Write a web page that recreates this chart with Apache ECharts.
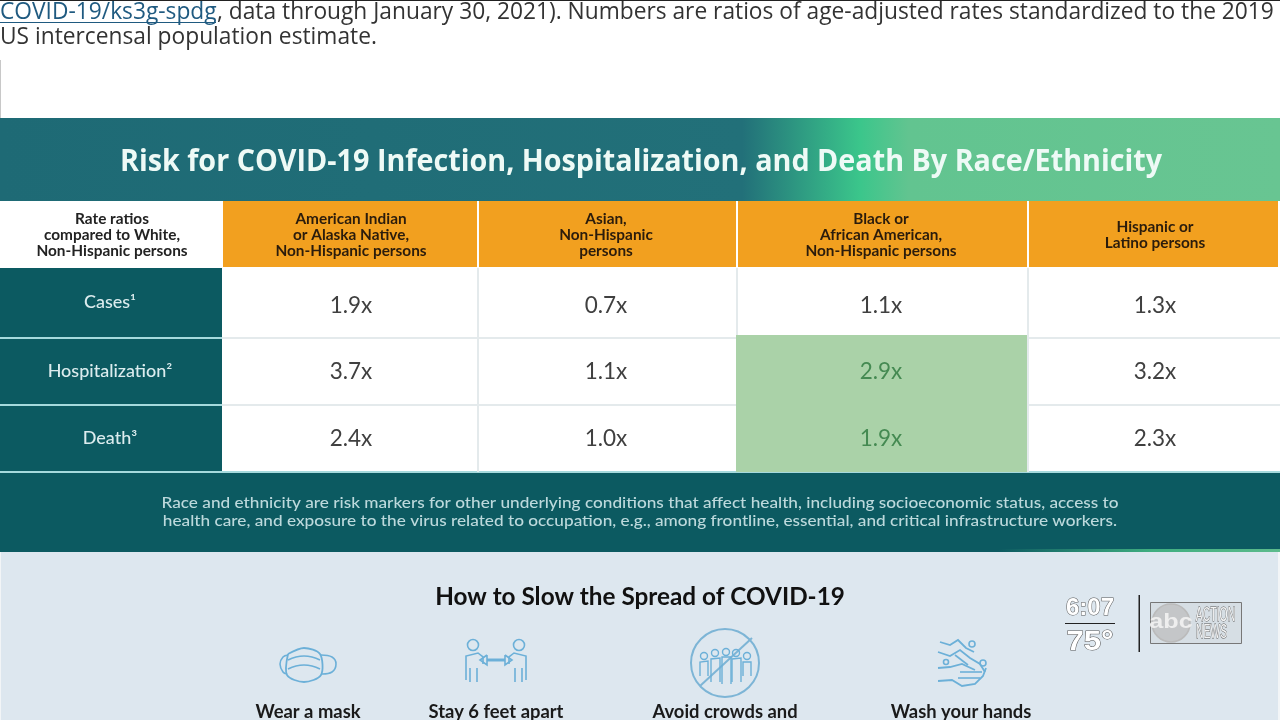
<!DOCTYPE html>
<html><head><meta charset="utf-8">
<style>html,body{margin:0;padding:0;background:#fff}#c{width:1280px;height:720px}</style>
<script src="https://cdn.jsdelivr.net/npm/echarts@6/dist/echarts.min.js"></script>
</head><body><div id="c"></div>
<script>
// ---- data ----
const categories = ['American Indian\nor Alaska Native,\nNon-Hispanic persons','Asian,\nNon-Hispanic\npersons','Black or\nAfrican American,\nNon-Hispanic persons','Hispanic or\nLatino persons'];
const rowLabels = ['Cases¹','Hospitalization²','Death³'];
const casesValues = [1.9,0.7,1.1,1.3];
const hospitalizationValues = [3.7,1.1,2.9,3.2];
const deathValues = [2.4,1.0,1.9,2.3];
const highlighted = [[2,1],[2,2]];
const cornerLabel = 'Rate ratios\ncompared to White,\nNon-Hispanic persons';
const titleText = 'Risk for COVID-19 Infection, Hospitalization, and Death By Race/Ethnicity';
const footnote = ['Race and ethnicity are risk markers for other underlying conditions that affect health, including socioeconomic status, access to','health care, and exposure to the virus related to occupation, e.g., among frontline, essential, and critical infrastructure workers.'];
const tips = ['Wear a mask','Stay 6 feet apart','Avoid crowds and','Wash your hands'];

// ---- layout ----
const colEdges = [223,479,738,1029,1280];
const colText = [351,606,881,1155];
const rowEdges = [268,338,405,472];
const rowText = [306,372,439];
const rowLabelY = [303,372,439];

const TEAL='#0c5a61', LINE='#e4eaec', ICON='#6cb0d8';
const font=(w,s,f)=>`${w} ${s}px ${f||'Lato'}`;
function T(text,x,y,fnt,fill,extra,align){
  const a=align||'center';
  return Object.assign({type:'text',x:x,y:y,style:{text:text,font:fnt,fill:fill,align:a,verticalAlign:'middle',textAlign:a,textVerticalAlign:'middle'},silent:true},extra||{});
}
function R(x,y,w,h,fill){return {type:'rect',shape:{x,y,width:w,height:h},style:{fill},silent:true};}
function L(pts,w,col,smooth){return {type:'polyline',shape:{points:pts,smooth:smooth||0},style:{stroke:col||ICON,lineWidth:w||1.6,fill:null},silent:true};}
function C(cx,cy,r,w,col,fill){return {type:'circle',shape:{cx,cy,r},style:{stroke:col||ICON,lineWidth:w||1.6,fill:fill||null},silent:true};}
const grad=(stops)=>({type:'linear',x:0,y:0,x2:1,y2:0,colorStops:stops});
const topFont=font(400,22.75,'Open Sans');

const gfx=[
  R(0,0,1280,720,'#ffffff'),
  R(0,0,1280,1,'#222222'),
  R(0,60,1,60,'#c8c8c8'),
  // top text
  T('COVID-19/ks3g-spdg',0,13,topFont,'#1f5a80',null,'left'),
  R(0,22,216,1,'#1f5a80'),
  T(', data through January 30, 2021). Numbers are ratios of age-adjusted rates standardized to the 2019',217,13,topFont,'#333333',null,'left'),
  T('US intercensal population estimate.',0,38,topFont,'#333333',null,'left'),
  // title band
  {type:'rect',shape:{x:0,y:118,width:1280,height:83},silent:true,style:{fill:grad([{offset:0,color:'#1e6a75'},{offset:0.58,color:'#227079'},{offset:0.672,color:'#3bc68b'},{offset:0.71,color:'#62c490'},{offset:1,color:'#68c592'}])}},
  T(titleText,641,162,font(700,30,'Open Sans'),'#eefaf6',{scaleX:0.958}),
  // left column + footer
  R(0,268,222,204,TEAL),
  R(0,337,222,2,'#a6dadd'),R(0,404,222,2,'#a6dadd'),R(0,471,1280,2,'#a6dadd'),
  R(0,473,1280,79,TEAL),
  {type:'rect',shape:{x:0,y:549,width:1280,height:3},silent:true,style:{fill:grad([{offset:0,color:TEAL},{offset:0.78,color:TEAL},{offset:0.9,color:'#3fae80'},{offset:1,color:'#5cbb8c'}])}},
  T(footnote[0],640,503,font(500,16),'#bcd9dc',{scaleX:1.075}),
  T(footnote[1],640,521,font(500,16),'#bcd9dc',{scaleX:1.075}),
  // lower panel
  R(0,552,1280,168,'#dde7ef'),
  R(0,552,1,168,'#f2f5f7'),R(1278,552,2,168,'#f2f5f7'),
  T('How to Slow the Spread of COVID-19',640,597,font(700,24.3),'#111111'),
  T(tips[0],308,712,font(700,18.4),'#1a1a1a'),
  T(tips[1],496,712,font(700,18.4),'#1a1a1a'),
  T(tips[2],725,712,font(700,18.4),'#1a1a1a'),
  T(tips[3],961,712,font(700,18.4),'#1a1a1a'),
  // mask icon
  L([[288,654],[304,648],[320,654],[321,675],[304,682],[287,675],[288,654]],1.8,ICON,0.3),
  L([[288,660],[304,656],[320,660]],1.5,ICON,0.5),L([[288,669],[304,665],[320,669]],1.5,ICON,0.5),
  L([[320,655],[332,657],[336,664],[332,672],[321,674]],1.6,ICON,0.4),
  L([[288,655],[283,657],[280,664],[283,672],[287,674]],1.6,ICON,0.4),
  // distance icon
  C(473,645,5.5),C(519,645,5.5),
  L([[466,680],[466,656],[478,653],[483,657],[483,664]],1.6),L([[470,682],[470,668]],1.6),L([[477,682],[477,668]],1.6),
  L([[526,680],[526,656],[514,653],[509,657],[509,664]],1.6),L([[522,682],[522,668]],1.6),L([[515,682],[515,668]],1.6),
  L([[487,660],[505,660]],3),L([[487,655],[480,660],[487,665],[487,655]],1.6),L([[505,655],[512,660],[505,665],[505,655]],1.6),
  // crowd icon
  C(725,663,34,2,'#7db5d6'),
  L([[752,638],[700,686]],2,'#7db5d6'),
  C(704,656,3.5,1.4),C(715,653,3.5,1.4),C(726,652,3.5,1.4),C(736,653,3.5,1.4),C(747,656,3.5,1.4),
  L([[700,676],[700,662],[708,661],[708,676]],1.4),L([[711,682],[711,659],[720,658],[720,682]],1.4),L([[722,684],[722,657],[731,657],[731,684]],1.4),L([[732,682],[732,659],[741,658],[741,682]],1.4),L([[743,676],[743,662],[751,662],[751,676]],1.4),
  // hands icon
  L([[940,642],[950,645],[958,640],[966,648],[974,652]],1.8),
  L([[938,652],[950,656],[960,650],[970,658],[980,664],[985,672]],1.8),
  L([[938,668],[950,667],[962,664],[975,670]],1.8),
  L([[938,681],[952,680],[962,686],[975,684],[983,676],[986,668]],1.8),
  L([[958,678],[980,678]],1.6),L([[960,672],[982,672]],1.6),L([[955,655],[968,665]],1.6),
  C(972,644,3,1.6),C(946,662,2.5,1.6),C(983,663,3,1.6),
  // bug
  R(1065,623,50,1,'#222222'),
  R(1138.5,595,1.5,57,'#222222'),
  T('6:07',1090,608,font(700,24,'Liberation Sans'),'#ffffff',{scaleX:1.0}),
  T('75°',1090,643,font(700,27,'Liberation Sans'),'#ffffff',{scaleX:1.15}),
  {type:'rect',shape:{x:1150.5,y:602.5,width:91,height:41},silent:true,style:{fill:'rgba(200,205,210,0.35)',stroke:'#777777',lineWidth:1}},
  C(1171,623,19,0,'#bbbbbb','#c4c6c8'),
  T('abc',1171,622,font(700,21,'Liberation Sans'),'#eeeeee',{scaleX:1.2}),
  T('ACTION',1215.5,615,font(400,20,'Liberation Sans'),'#f4f4f4',{scaleX:0.52}),
  T('NEWS',1211.5,632,font(400,20,'Liberation Sans'),'#f4f4f4',{scaleX:0.52}),
];
// outlined clock text
gfx.forEach(g=>{ if(g.type==='text' && /^(6:07|75°|ACTION|NEWS)$/.test(g.style.text)){ g.style.stroke='#555555'; g.style.lineWidth=1; }});

const valueRows=[casesValues,hospitalizationValues,deathValues];
const cellData=[];
valueRows.forEach((vals,r)=>vals.forEach((v,c)=>cellData.push([c,r,v])));
const isHi=(c,r)=>highlighted.some(h=>h[0]===c&&h[1]===r);
const tStyle=(o)=>Object.assign({align:'center',verticalAlign:'middle',textAlign:'center',textVerticalAlign:'middle'},o);

function renderCell(params,api){
  const c=api.value(0), r=api.value(1), v=api.value(2);
  const p0=api.coord([colEdges[c],rowEdges[r]]), p1=api.coord([colEdges[c+1],rowEdges[r+1]]);
  const pt=api.coord([colText[c],rowText[r]]);
  const hi=isHi(c,r);
  const kids=[];
  if(hi) kids.push({type:'rect',shape:{x:p0[0]-2,y:p0[1]-(r===1?3:1),width:p1[0]-p0[0],height:p1[1]-p0[1]+(r===1?3:1)},style:{fill:'#aad2a8'}});
  kids.push({type:'text',x:pt[0],y:pt[1],style:tStyle({text:v.toFixed(1)+'x',font:font(400,22.5),fill:hi?'#458a52':'#404040'})});
  return {type:'group',children:kids};
}
function renderHead(params,api){
  const c=api.value(0);
  const p0=api.coord([colEdges[c],201]), p1=api.coord([colEdges[c+1],267]);
  const pt=api.coord([colText[c],235]);
  return {type:'group',children:[
    {type:'rect',shape:{x:p0[0],y:p0[1],width:p1[0]-p0[0]-2,height:p1[1]-p0[1]},style:{fill:'#f2a01f'}},
    {type:'text',x:pt[0],y:pt[1],scaleX:1.06,style:tStyle({text:categories[c],font:font(700,14.5),lineHeight:16,fill:'#2b1c0c'})}
  ]};
}
function renderRow(params,api){
  const r=api.value(0);
  const pt=api.coord([110,rowLabelY[r]]);
  return {type:'text',x:pt[0],y:pt[1],scaleX:1.09,style:tStyle({text:rowLabels[r],font:font(500,16.5),fill:'#dcecee'})};
}
function renderGrid(params,api){
  const kids=[];
  [337,404].forEach(y=>kids.push({type:'rect',shape:{x:222,y:y,width:1058,height:2},style:{fill:LINE}}));
  [477,736,1027].forEach(x=>kids.push({type:'rect',shape:{x:x,y:268,width:2,height:204},style:{fill:LINE}}));
  return {type:'group',children:kids};
}

const chart=echarts.init(document.getElementById('c'),null,{renderer:'canvas'});
chart.setOption({
  animation:false,
  backgroundColor:'#ffffff',
  grid:{left:0,right:0,top:0,bottom:0},
  xAxis:{type:'value',min:0,max:1280,show:false},
  yAxis:{type:'value',min:0,max:720,inverse:true,show:false},
  graphic:{elements:gfx},
  series:[
    {type:'custom',coordinateSystem:'cartesian2d',data:[[0]],renderItem:renderGrid,silent:true,z:2,clip:false},
    {type:'custom',coordinateSystem:'cartesian2d',name:'cells',data:cellData,encode:{x:0,y:1},renderItem:renderCell,silent:true,z:3,clip:false},
    {type:'custom',coordinateSystem:'cartesian2d',name:'headers',data:categories.map((_,i)=>[i]),renderItem:renderHead,silent:true,z:3,clip:false},
    {type:'custom',coordinateSystem:'cartesian2d',name:'rows',data:rowLabels.map((_,i)=>[i]),renderItem:renderRow,silent:true,z:3,clip:false},
    {type:'custom',coordinateSystem:'cartesian2d',name:'corner',data:[[0]],silent:true,z:3,clip:false,renderItem:(p,api)=>{const pt=api.coord([112,235]);return {type:'text',x:pt[0],y:pt[1],scaleX:1.06,style:tStyle({text:cornerLabel,font:font(700,14.5),lineHeight:16,fill:'#222222'})};}}
  ]
});
</script></body></html>
